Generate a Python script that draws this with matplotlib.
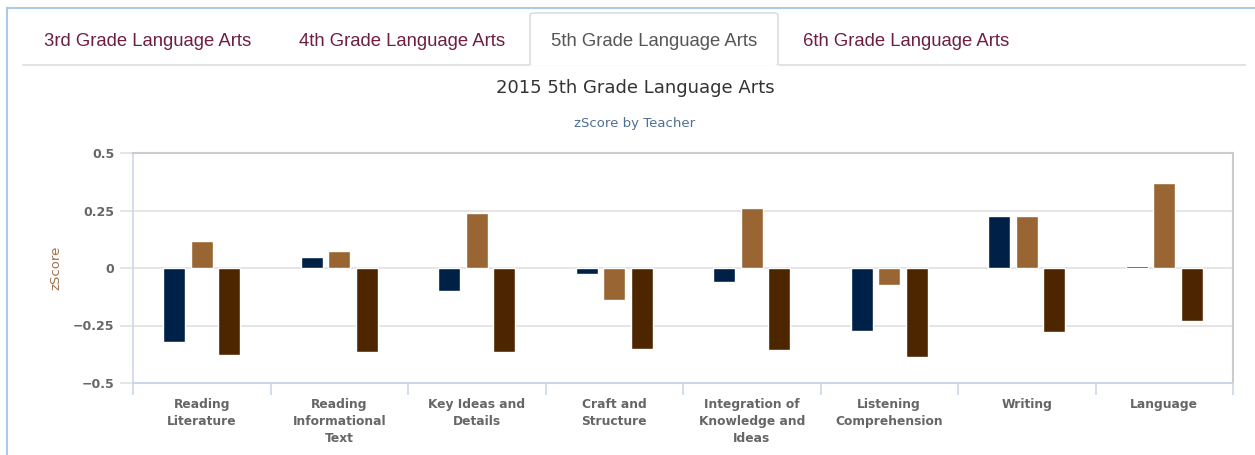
import matplotlib
matplotlib.use("Agg")
import matplotlib.pyplot as plt
from matplotlib.patches import FancyBboxPatch
from matplotlib.lines import Line2D
import numpy as np

categories = ["Reading\nLiterature", "Reading\nInformational\nText", "Key Ideas and\nDetails",
              "Craft and\nStructure", "Integration of\nKnowledge and\nIdeas", "Listening\nComprehension",
              "Writing", "Language"]
teacher_a = [-0.32, 0.046, -0.10, -0.027, -0.062, -0.275, 0.226, 0.007]
teacher_b = [0.119, 0.073, 0.238, -0.14, 0.26, -0.072, 0.226, 0.368]
teacher_c = [-0.377, -0.365, -0.365, -0.354, -0.358, -0.388, -0.28, -0.23]
series = [teacher_a, teacher_b, teacher_c]
colors = ["#002147", "#996633", "#4d2600"]
yticks = [-0.5, -0.25, 0, 0.25, 0.5]
ytick_labels = ["\u22120.5", "\u22120.25", "0", "0.25", "0.5"]
tabs = ["3rd Grade Language Arts", "4th Grade Language Arts", "5th Grade Language Arts", "6th Grade Language Arts"]
active_tab = 2

W, H = 1255, 455
fig = plt.figure(figsize=(W / 100, H / 100), dpi=100)

def fx(px):
    return px / W

def fy(py):
    return 1 - py / H

# outer light-blue panel border
fig.add_artist(Line2D([fx(7), fx(7)], [fy(8), 0], color="#a9cbe8", lw=1.5))
fig.add_artist(Line2D([fx(7), 1], [fy(8), fy(8)], color="#a9cbe8", lw=1.5))

# tab baseline
fig.add_artist(Line2D([fx(23), fx(530)], [fy(65), fy(65)], color="#dddddd", lw=1.2))
fig.add_artist(Line2D([fx(778), fx(1245)], [fy(65), fy(65)], color="#dddddd", lw=1.2))
# active tab box
tab_box = FancyBboxPatch((fx(530), fy(66)), fx(778) - fx(530), fy(13) - fy(66),
                         boxstyle="round,pad=0,rounding_size=0.004", transform=fig.transFigure,
                         facecolor="white", edgecolor="#dddddd", lw=1.2)
fig.add_artist(tab_box)
fig.add_artist(Line2D([fx(531), fx(777)], [fy(66), fy(66)], color="white", lw=2))

tab_centers = [148, 402, 654, 906]
for i, (t, cx) in enumerate(zip(tabs, tab_centers)):
    fig.text(fx(cx), fy(41), t, ha="center", va="center", fontsize=13.3,
             family="Liberation Sans", color="#555555" if i == active_tab else "#6e1f3f")

fig.text(fx(635), fy(88), "2015 5th Grade Language Arts", ha="center", va="center",
         fontsize=13, family="DejaVu Sans", color="#333333")
fig.text(fx(635), fy(124), "zScore by Teacher", ha="center", va="center",
         fontsize=9.5, family="DejaVu Sans", color="#4f6f96")

ax = fig.add_axes([fx(133), fy(383), fx(1233) - fx(133), fy(153) - fy(383)])
x = np.arange(len(categories))
offsets = [-0.2, 0.0, 0.2]
for vals, off, c in zip(series, offsets, colors):
    ax.bar(x + off, vals, width=0.16, color=c, edgecolor="white", linewidth=1, zorder=3)

ax.set_xlim(-0.5, len(categories) - 0.5)
ax.set_ylim(-0.5, 0.5)
ax.set_yticks(yticks)
ax.set_yticklabels(ytick_labels)
ax.yaxis.grid(True, color="#e0e0e0", lw=1.2, zorder=0)
ax.tick_params(axis="y", length=9.4, color="#e0e0e0", width=1.2, pad=4,
               labelsize=9, labelcolor="#666666")
for lab in ax.get_yticklabels():
    lab.set_fontweight("bold")
    lab.set_family("DejaVu Sans")

ax.set_xticks(x)
ax.set_xticklabels(categories, fontsize=8.8, fontweight="bold", color="#666666",
                   family="DejaVu Sans", linespacing=1.4)
ax.tick_params(axis="x", length=0, pad=10.5)
ax.set_xticks(np.arange(-0.5, len(categories)), minor=True)
ax.tick_params(axis="x", which="minor", length=8.6, color="#ccd6eb", width=1.2)

for s in ["top", "right"]:
    ax.spines[s].set_color("#cccccc")
    ax.spines[s].set_linewidth(1.5)
ax.spines["left"].set_color("#ccd6eb")
ax.spines["bottom"].set_color("#ccd6eb")
ax.spines["left"].set_linewidth(1.2)
ax.spines["bottom"].set_linewidth(1.5)

ax.set_ylabel("zScore", fontsize=9.5, color="#a0704a", family="DejaVu Sans")
ax.yaxis.set_label_coords((62 - 133) / 1100, 0.5)

fig.savefig("out.png", dpi=100)
